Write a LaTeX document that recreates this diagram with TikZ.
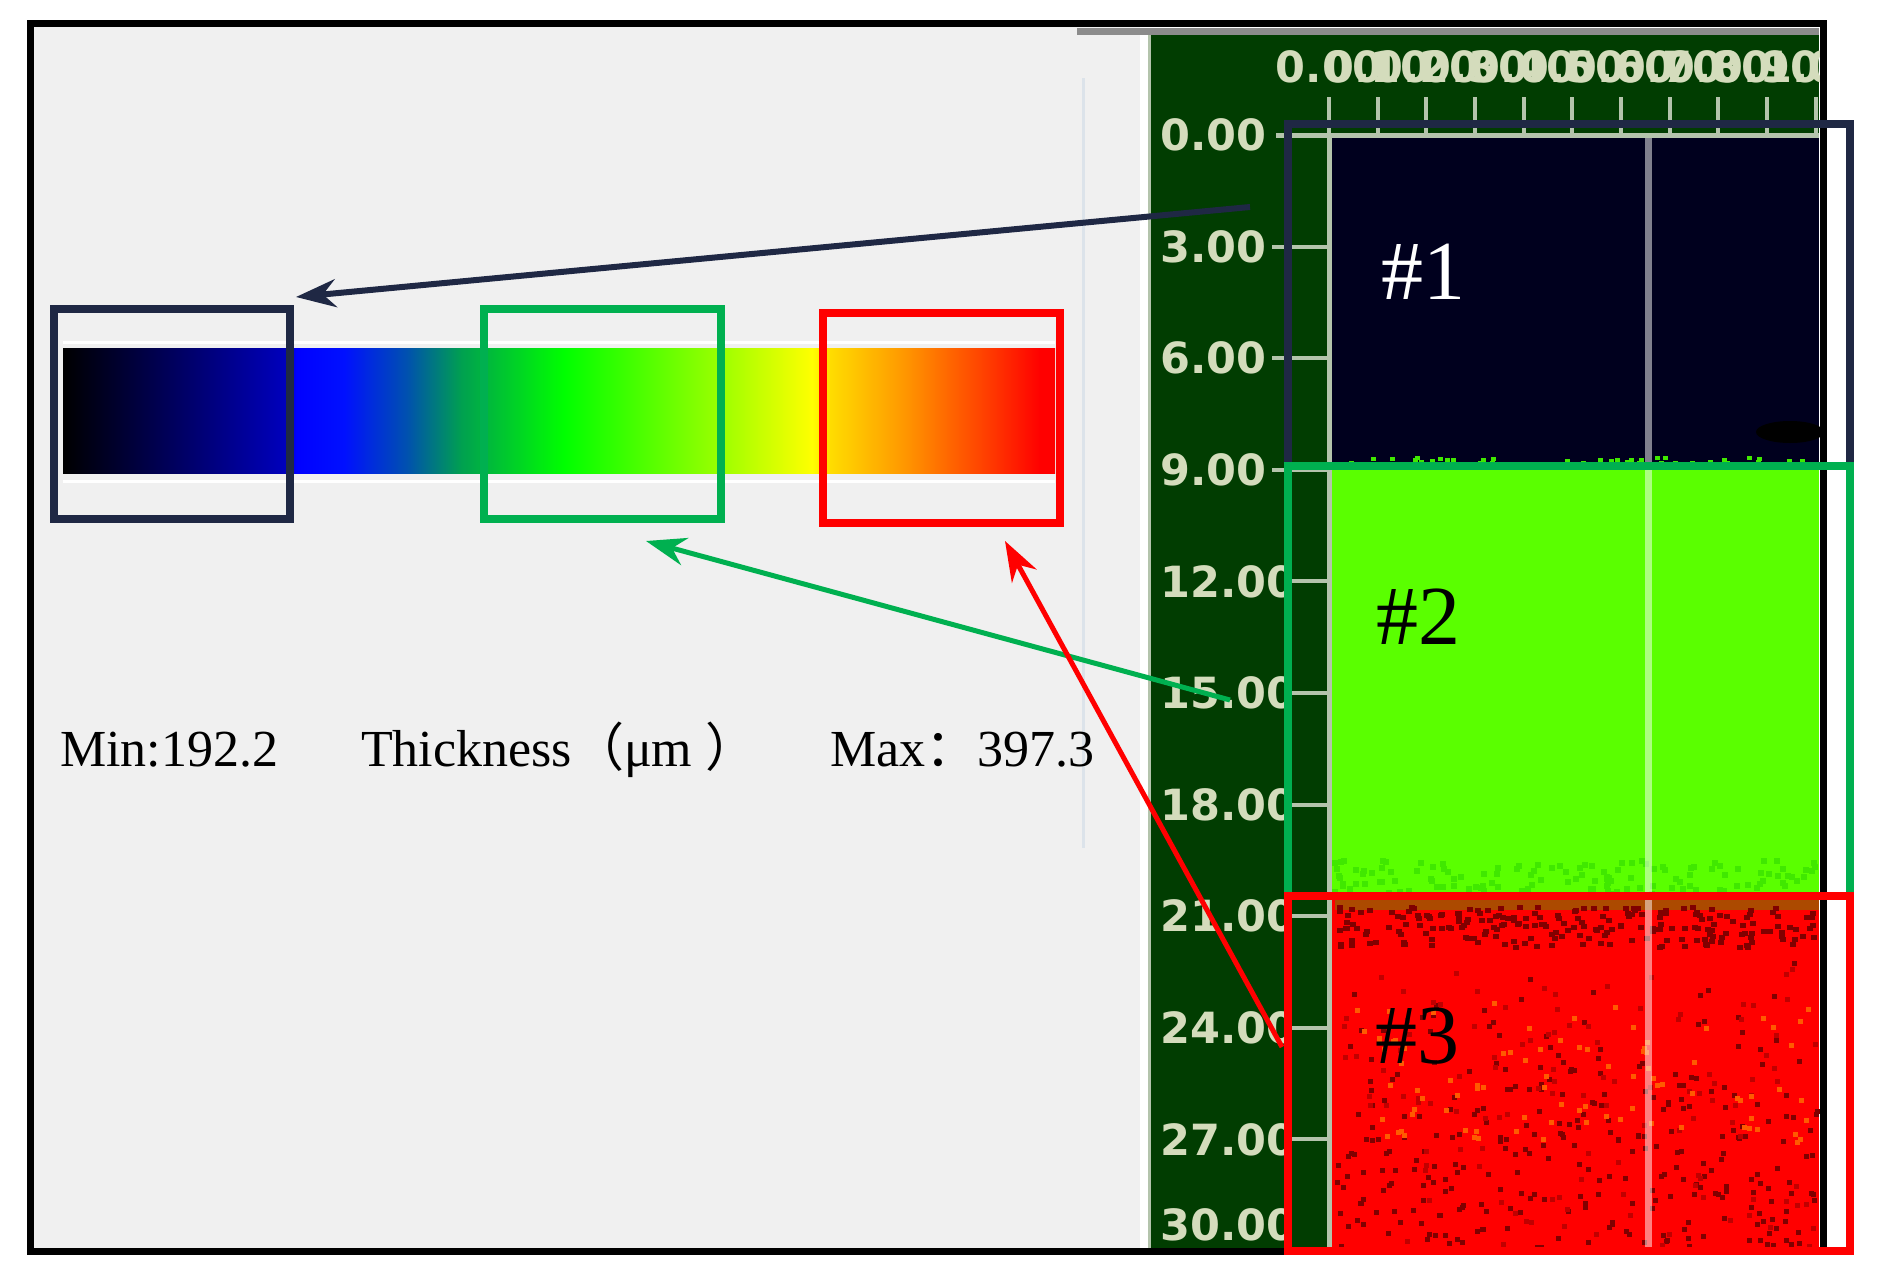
\documentclass[tikz,border=0pt]{standalone}
\usepackage{fontspec}
\setmainfont{Liberation Serif}
\newfontfamily\axisfont{DejaVu Sans}
\newfontfamily\cjk{Noto Sans CJK SC}
\usetikzlibrary{arrows.meta}
\definecolor{panelgray}{HTML}{F0F0F0}
\definecolor{divline}{HTML}{DCE3EA}
\definecolor{axisgreen}{HTML}{013D01}
\definecolor{axistext}{HTML}{D4DCBC}
\definecolor{ticklight}{HTML}{B4C4AC}
\definecolor{stripgray}{HTML}{8C8C8C}
\definecolor{boxnavy}{HTML}{1F2844}
\definecolor{boxgreen}{HTML}{00B050}
\definecolor{boxred}{HTML}{FF0000}
\definecolor{datanavy}{HTML}{00001E}
\definecolor{datagreen}{HTML}{5AFF00}
\definecolor{datared}{HTML}{FF0000}
\definecolor{speckdark}{HTML}{800000}
\definecolor{speckmid}{HTML}{C00000}
\definecolor{speckorange}{HTML}{FF5A00}
\definecolor{olive}{HTML}{8A6A00}
\definecolor{greendark}{HTML}{40E800}
\definecolor{gA}{HTML}{0000C0}
\definecolor{gB}{HTML}{0000FF}
\definecolor{gC}{HTML}{0010FF}
\definecolor{gD}{HTML}{0050B0}
\definecolor{gE}{HTML}{00A050}
\definecolor{gF}{HTML}{00FF00}
\definecolor{gG}{HTML}{90FF00}
\definecolor{gH}{HTML}{FFFF00}
\definecolor{gI}{HTML}{FFE000}
\definecolor{gJ}{HTML}{FF9900}
\definecolor{gK}{HTML}{FF4000}
\pgfdeclarehorizontalshading{thickbar}{100bp}{color(0bp)=(black); color(25bp)=(black); color(36.39bp)=(gA); color(36.74bp)=(gB); color(39.16bp)=(gC); color(42.29bp)=(gD); color(45.06bp)=(gE); color(50.25bp)=(gF); color(57.56bp)=(gG); color(62.75bp)=(gH); color(63.46bp)=(gI); color(67.29bp)=(gJ); color(71.42bp)=(gK); color(74.24bp)=(red); color(100bp)=(red)}
\begin{document}
\begin{tikzpicture}[x=1pt,y=-1pt,
  lbl/.style={inner sep=0pt, text=black, font=\fontsize{52}{52}\selectfont},
  axislbl/.style={inner sep=0pt, text=axistext, font=\axisfont\bfseries\fontsize{43}{43}\selectfont},
  tag/.style={inner sep=0pt, font=\fontsize{84}{84}\selectfont},
  thickbox/.style={line width=8pt},
  pointer/.style={line width=#1, -{Stealth[length=40pt,width=28pt]}},
  tickmark/.style={ticklight, line width=4pt}]
\useasboundingbox (0,0) rectangle (1887,1285);
\fill[white] (0,0) rectangle (1887,1285);
% left panel
\fill[panelgray] (30,24) rectangle (1140,1250);
\fill[white] (1140,24) rectangle (1150,1250);
\draw[divline, line width=3pt] (1083,78) -- (1083,848);
% colour bar
\draw[white, line width=3pt] (63,342) -- (1055,342);
\draw[white, line width=3pt] (63,481) -- (1055,481);
\node[name=bar, anchor=north west, inner sep=0pt, minimum width=992pt, minimum height=125pt, shading=thickbar] at (63,348) {};
\draw[boxnavy, thickbox] (53.5,308.5) rectangle (290,518.5);
\draw[boxgreen, thickbox] (483.5,308.5) rectangle (720.5,518.5);
\draw[boxred, thickbox] (822.5,312.5) rectangle (1059.5,523);
\node[lbl, anchor=base west] (minlbl) at (60,766) {Min:192.2};
\node[lbl, anchor=base west] (thicklbl) at (361,766) {Thickness{\cjk （}μm {\cjk ）}};
\node[lbl, anchor=base west] (maxlbl) at (830,766) {Max{\cjk ：}397.3};
% right panel
\fill[stripgray] (1077,28) rectangle (1819,35);
\fill[axisgreen] (1150,35) rectangle (1819,1248);
\draw[ticklight, line width=3pt] (1149,35) -- (1149,1248);
% data image
\fill[datanavy] (1329,135) rectangle (1819,466);
\fill[black] (1790,432) ellipse [x radius=34pt, y radius=11pt];
\fill[datagreen] (1329,466) rectangle (1819,895);
\fill[datared] (1329,895) rectangle (1819,1248);
\pgfmathsetseed{11}
\foreach \k in {1,...,60}{
  \pgfmathsetmacro\sx{1332+rnd*484}\pgfmathsetmacro\sy{456+rnd*10}
  \fill[greendark] (\sx,\sy) rectangle ++(5,4);}
\foreach \k in {1,...,140}{
  \pgfmathsetmacro\sx{1332+rnd*484}\pgfmathsetmacro\sy{858+rnd*36}
  \fill[greendark] (\sx,\sy) rectangle ++(6,6);}
\fill[olive, opacity=0.7] (1335,900) rectangle (1819,910);
\foreach \k in {1,...,220}{
  \pgfmathsetmacro\sx{1332+rnd*484}\pgfmathsetmacro\sy{905+rnd*40}
  \fill[speckdark] (\sx,\sy) rectangle ++(6,5);}
\foreach \k in {1,...,300}{
  \pgfmathsetmacro\sx{1332+rnd*484}\pgfmathsetmacro\sy{950+295*sqrt(rnd)}
  \fill[speckdark] (\sx,\sy) rectangle ++(5,5);}
\foreach \k in {1,...,120}{
  \pgfmathsetmacro\sx{1332+rnd*484}\pgfmathsetmacro\sy{960+rnd*290}
  \fill[speckmid] (\sx,\sy) rectangle ++(5,5);}
\foreach \k in {1,...,90}{
  \pgfmathsetmacro\sx{1340+rnd*470}\pgfmathsetmacro\sy{1000+rnd*140}
  \fill[speckorange] (\sx,\sy) rectangle ++(5,5);}
\draw[white, opacity=0.5, line width=7pt] (1648,135) -- (1648,1248);
\draw[ticklight, line width=5pt] (1329,135) -- (1329,1248);
\draw[ticklight, line width=5pt] (1276,135) -- (1819,135);
% top axis
\foreach \i in {0,...,10}{
  \draw[tickmark] ({1329+48.65*\i},97) -- ({1329+48.65*\i},135);}
\begin{scope}
\clip (1150,35) rectangle (1819,125);
\foreach \i/\t in {0/0.00,1/0.10,2/0.20,3/0.30,4/0.40,5/0.50,6/0.60,7/0.70,8/0.80,9/0.90,10/1.00}{
  \node[axislbl] (xl\i) at ({1329+48.65*\i},67) {\t};}
\end{scope}
% left axis
\foreach \i in {1,...,9}{
  \draw[tickmark] (1290,{135+111.6*\i}) -- (1330,{135+111.6*\i});}
\foreach \i in {1,2,3}{
  \draw[tickmark] (1272,{135+111.6*\i}) -- (1290,{135+111.6*\i});}
\begin{scope}
\clip (1150,35) rectangle (1285,1248);
\foreach \i/\t in {0/0.00,1/3.00,2/6.00,3/9.00,4/12.00,5/15.00,6/18.00,7/21.00,8/24.00,9/27.00}{
  \node[axislbl, anchor=west] (yl\i) at (1160,{135+111.6*\i}) {\t};}
\node[axislbl, anchor=west] (yl10) at (1160,1225) {30.00};
\end{scope}
% region tags
\node[tag, text=white] (t1) at (1423,272) {\#1};
\node[tag, text=black] (t2) at (1418,617) {\#2};
\node[tag, text=black] (t3) at (1417,1036) {\#3};
% outer frame
\draw[black, line width=7pt] (30.5,23.5) rectangle (1823,1251.5);
% overlay boxes
\draw[boxnavy, thickbox] (1287.5,124) rectangle (1850,466);
\draw[boxgreen, thickbox] (1287.5,466) rectangle (1850,896);
\draw[boxred, thickbox] (1287.5,896) rectangle (1850,1251);
% arrows
\coordinate (n1s) at (1250,207);
\coordinate (n1e) at (296,297);
\coordinate (g2s) at (1230,700);
\coordinate (g2e) at (646,541);
\coordinate (r3s) at (1282,1047);
\coordinate (r3e) at (1005,541);
\draw[boxnavy, pointer=6pt] (n1s) -- (n1e);
\draw[boxgreen, pointer=5pt] (g2s) -- (g2e);
\draw[boxred, pointer=5pt] (r3s) -- (r3e);
\end{tikzpicture}
\end{document}
